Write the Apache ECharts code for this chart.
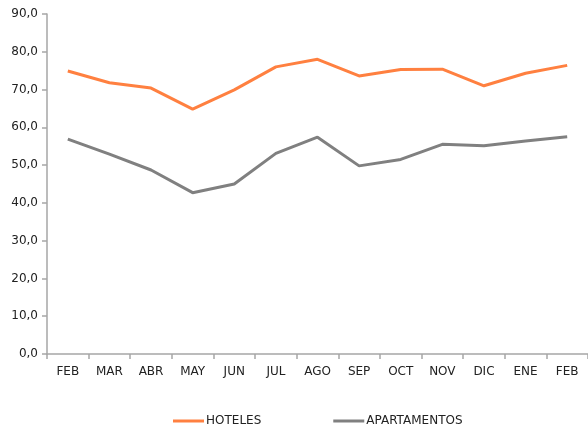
<!DOCTYPE html>
<html>
<head>
<meta charset="utf-8">
<script src="https://cdn.jsdelivr.net/npm/echarts@6/dist/echarts.min.js"></script>
<style>
  html, body { margin: 0; padding: 0; background: #fff; }
  #chart { width: 588px; height: 427px; }
</style>
</head>
<body>
<div id="chart"></div>
<script>
// meses
var months = ['FEB', 'MAR', 'ABR', 'MAY', 'JUN', 'JUL', 'AGO', 'SEP', 'OCT', 'NOV', 'DIC', 'ENE', 'FEB'];
// valores
var hoteles = [74.9, 71.8, 70.4, 64.8, 69.9, 76.0, 78.0, 73.6, 75.3, 75.4, 71.0, 74.3, 76.4];
var apartamentos = [56.9, 52.9, 48.7, 42.7, 45.0, 53.1, 57.4, 49.8, 51.5, 55.5, 55.1, 56.4, 57.5];

var font = 'DejaVu Sans';
var chart = echarts.init(document.getElementById('chart'));
var option = {
  animation: false,
  textStyle: { fontFamily: font },
  grid: { left: 47, right: 0, top: 14, bottom: 73, containLabel: false },
  legend: {
    top: 410,
    left: 168,
    itemGap: 72,
    itemWidth: 31,
    itemHeight: 3,
    icon: 'rect',
    textStyle: { fontFamily: font, fontSize: 12, color: '#222', padding: [0, 0, 0, -3] },
    data: ['HOTELES', 'APARTAMENTOS']
  },
  xAxis: {
    type: 'category',
    data: months,
    boundaryGap: true,
    axisLine: { lineStyle: { color: '#a6a6a6', width: 1.5 } },
    axisTick: { show: true, length: 5, alignWithLabel: false, lineStyle: { color: '#a6a6a6', width: 1.5 } },
    axisLabel: { color: '#222', fontSize: 12, margin: 12, fontFamily: font }
  },
  yAxis: {
    type: 'value',
    min: 0,
    max: 90,
    interval: 10,
    splitLine: { show: false },
    axisLine: { show: true, lineStyle: { color: '#a6a6a6', width: 1.5 } },
    axisTick: { show: true, length: 5, lineStyle: { color: '#a6a6a6', width: 1.5 } },
    axisLabel: {
      color: '#222', fontSize: 12, margin: 9, fontFamily: font,
      formatter: function (v) { return v.toFixed(1).replace('.', ','); }
    }
  },
  series: [
    {
      name: 'HOTELES',
      type: 'line',
      data: hoteles,
      symbol: 'none',
      color: '#ff8040',
      lineStyle: { width: 3, color: '#ff8040' }
    },
    {
      name: 'APARTAMENTOS',
      type: 'line',
      data: apartamentos,
      symbol: 'none',
      color: '#808080',
      lineStyle: { width: 3, color: '#808080' }
    }
  ]
};
chart.setOption(option);
</script>
</body>
</html>
